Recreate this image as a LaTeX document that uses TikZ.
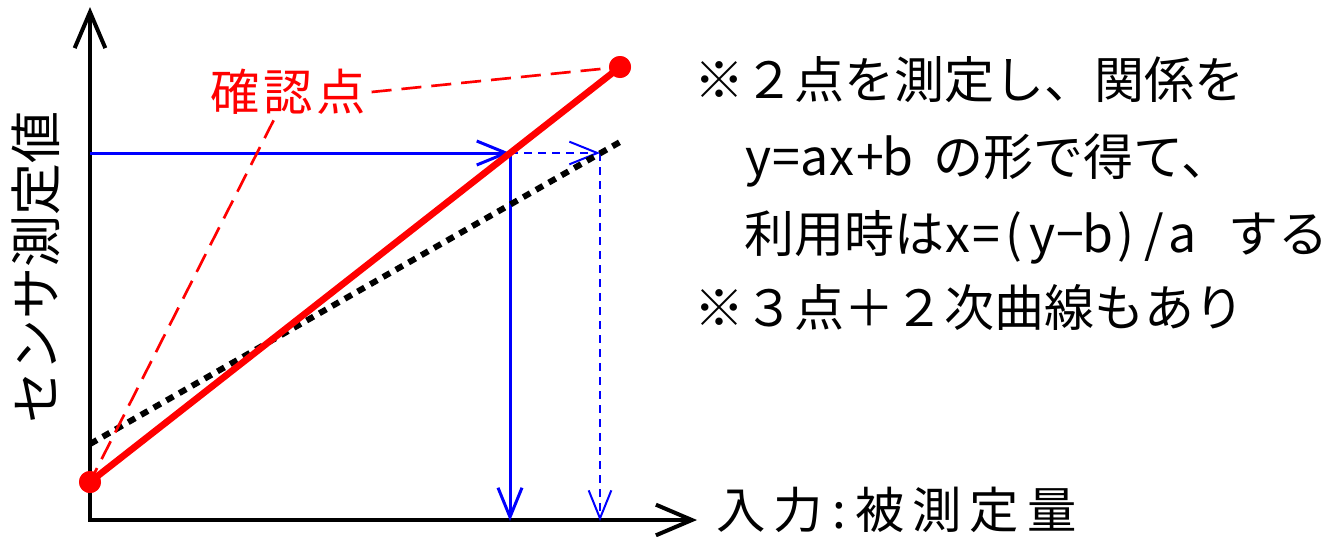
\documentclass[tikz,border=0pt]{standalone}
\usepackage{fontspec}
\setmainfont{Noto Sans CJK JP}
\usetikzlibrary{arrows.meta}
\newcommand{\hwc}[1]{\makebox[0.56em][c]{#1}}
\begin{document}
\begin{tikzpicture}[x=0.75pt,y=-0.75pt,
  axisline/.style={line width=3pt,line join=miter},
  axistip/.tip={Straight Barb[length=27pt,width=23pt,line width=3pt]},
  bluesolid/.style={blue,line width=2.25pt,-{Straight Barb[length=22pt,width=18pt,line width=2.25pt]}},
  bluedash/.style={blue,line width=1.5pt,dash pattern=on 6pt off 4.5pt,-{Straight Barb[length=21pt,width=17pt,line width=1.5pt]}},
  redline/.style={red,line width=5pt},
  reddash/.style={red,line width=2pt,dash pattern=on 15pt off 7.5pt},
  blackdot/.style={black,line width=4.5pt,dash pattern=on 6pt off 5pt},
  reddot/.style={circle,fill=red,minimum size=16.5pt,inner sep=0pt},
  txt/.style={anchor=west,inner sep=0pt,font=\fontsize{37.5pt}{44pt}\selectfont},
  bigtxt/.style={inner sep=0pt,font=\fontsize{39pt}{46pt}\selectfont}]
\useasboundingbox (0,0) rectangle (1336,536);
% coordinates
\coordinate (O) at (90,520);
\coordinate (ytop) at (90,7);
\coordinate (xend) at (697,520);
\coordinate (D1) at (90,444);
\coordinate (D2) at (620,142);
\coordinate (B1) at (90,153);
\coordinate (B2) at (510,153);
\coordinate (B3) at (510,521);
\coordinate (C2) at (600,153);
\coordinate (C3) at (600,521);
% axes
\draw[axisline,axistip-axistip] (ytop) -- (O) -- (xend);
% blue lines
\draw[bluesolid] (B1) -- (B2);
\draw[bluesolid] (B2) -- (B3);
\draw[bluedash] (B2) -- (C2);
\draw[bluedash] (C2) -- (C3);
% black dotted
\draw[blackdot] (D1) -- (D2);
% red line and dots
\node[reddot] (P1) at (90,482) {};
\node[reddot] (P2) at (620,67) {};
\draw[redline] (P1.center) -- (P2.center);
\node[reddot] at (P1.center) {};
\node[reddot] at (P2.center) {};
% label
\node[red,font=\fontsize{37pt}{44pt}\selectfont,inner sep=4pt] (lab) at (288,92) {確\kern3pt 認\kern3pt 点};
\draw[reddash] (lab.east) -- (P2.center);
\draw[reddash] (lab) -- (P1.center);
% axis labels
\node[bigtxt,rotate=90] (ylab) at (36,267) {センサ測定値};
\node[anchor=west,inner sep=0pt,font=\fontsize{37pt}{44pt}\selectfont] (xlab) at (716,510) {入\kern6pt 力\kern7pt :\kern7pt 被\kern6pt 測\kern6pt 定\kern6pt 量};
% notes
\node[txt] (t1) at (694,80) {※２点を測定し、関係を};
\node[txt] (t2) at (694,160) {　\hwc{y}\hwc{=}\hwc{a}\hwc{x}\hwc{+}\hwc{b}\hspace{16pt}の形で得て、};
\node[txt] (t3) at (694,237) {　利用時は\hwc{x}\hwc{=}\hwc{(}\hwc{y}\hwc{−}\hwc{b}\hwc{)}\hwc{/}\hwc{a}\hspace{24pt}する};
\node[txt] (t4) at (694,307) {※３点＋２次曲線もあり};
\end{tikzpicture}
\end{document}
